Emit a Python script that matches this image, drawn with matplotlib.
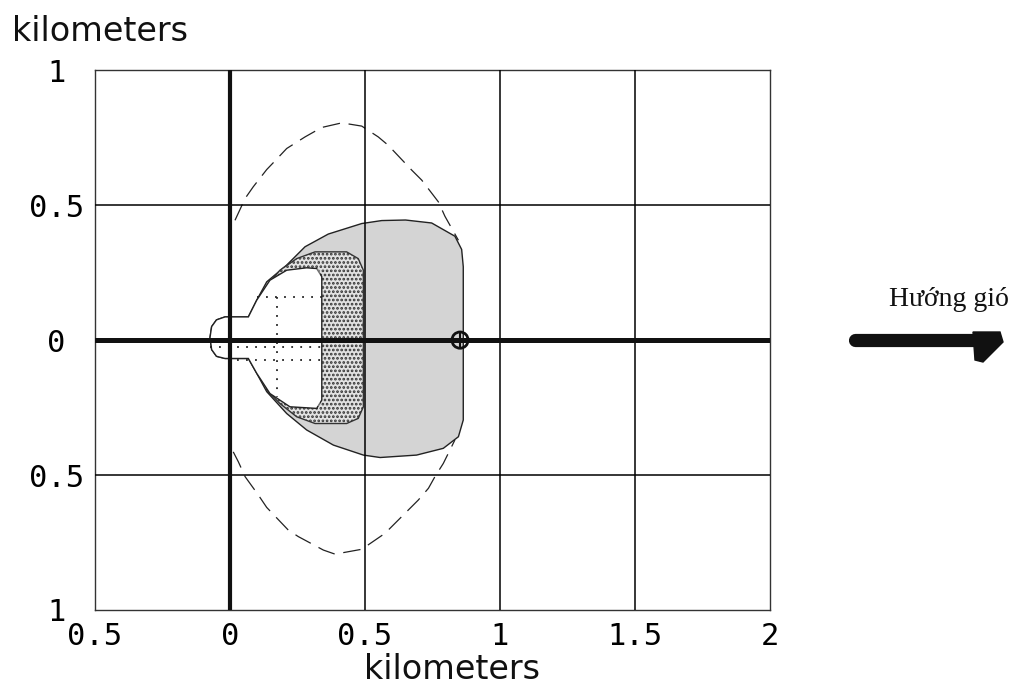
import numpy as np
import matplotlib.pyplot as plt
from matplotlib.patches import Polygon, Circle

plt.rcParams['hatch.linewidth'] = 1.3

# axis ticks (labels drawn without minus sign, as in the source figure)
x_ticks = [-0.5, 0, 0.5, 1, 1.5, 2]
x_tick_labels = ["0.5", "0", "0.5", "1", "1.5", "2"]
y_ticks = [-1, -0.5, 0, 0.5, 1]
y_tick_labels = ["1", "0.5", "0", "0.5", "1"]

# outer boundary of the grey zone (km)
outer_x = [-0.0185, 0.068, 0.099, 0.136, 0.21, 0.278, 0.364, 0.488, 0.562, 0.65, 0.747, 0.833, 0.858,
           0.864, 0.864, 0.846, 0.79, 0.691, 0.556, 0.494, 0.383, 0.284, 0.21, 0.136, 0.099,
           0.068, -0.0185, -0.05, -0.068, -0.074, -0.068, -0.05]
outer_y = [0.086, 0.086, 0.148, 0.216, 0.278, 0.346, 0.393, 0.432, 0.443, 0.445, 0.434, 0.385, 0.336,
           0.272, -0.296, -0.358, -0.401, -0.426, -0.435, -0.426, -0.389, -0.333, -0.272, -0.191, -0.123,
           -0.068, -0.068, -0.06, -0.035, 0.01, 0.05, 0.075]

# stippled middle zone
mid_x = [0.315, 0.432, 0.475, 0.494, 0.494, 0.475, 0.432, 0.315, 0.247, 0.185, 0.136, 0.136, 0.185, 0.247]
mid_y = [0.327, 0.327, 0.302, 0.259, -0.247, -0.29, -0.309, -0.309, -0.284, -0.235, -0.185, 0.2, 0.259, 0.302]

# inner (white) zone
inner_x = [0.321, 0.340, 0.340, 0.321, 0.222, 0.148, 0.099, 0.068, -0.0185, -0.05, -0.068, -0.074,
           -0.068, -0.05, -0.0185, 0.068, 0.099, 0.148, 0.21, 0.284]
inner_y = [0.265, 0.235, -0.222, -0.253, -0.247, -0.198, -0.123, -0.068, -0.068, -0.06, -0.035, 0.01,
           0.05, 0.075, 0.086, 0.086, 0.148, 0.222, 0.259, 0.268]

# light stippled band inside the inner zone
band_x = [0.284, 0.334, 0.334, 0.284]
band_y = [0.262, 0.262, -0.245, -0.245]

# dashed outer contour, upper and lower branch
dash_top_x = [0.0185, 0.056, 0.086, 0.136, 0.160, 0.210, 0.278, 0.340, 0.414, 0.488, 0.549,
              0.586, 0.673, 0.710, 0.772, 0.796, 0.846]
dash_top_y = [0.444, 0.525, 0.568, 0.632, 0.657, 0.710, 0.753, 0.788, 0.805, 0.793, 0.753,
              0.722, 0.630, 0.593, 0.512, 0.459, 0.370]
dash_bot_x = [0.012, 0.031, 0.056, 0.105, 0.136, 0.216, 0.253, 0.346, 0.389, 0.488, 0.574,
              0.617, 0.697, 0.735, 0.759, 0.790, 0.833]
dash_bot_y = [-0.414, -0.451, -0.506, -0.574, -0.620, -0.704, -0.728, -0.778, -0.793, -0.775, -0.716,
              -0.673, -0.593, -0.549, -0.506, -0.457, -0.370]

# dotted guide lines inside the inner zone: (x0, x1, y0, y1)
dotted_lines = [(0.099, 0.34, 0.160, 0.160),
                (-0.074, 0.34, -0.025, -0.025),
                (0.025, 0.34, -0.074, -0.074),
                (0.175, 0.175, 0.160, -0.21)]

# source marker
src_x, src_y, src_r = 0.852, 0.0, 0.03

fig = plt.figure(figsize=(10.15, 6.92), dpi=100)
ax = fig.add_axes([0.0936, 0.1185, 0.665, 0.780])
ax.set_xlim(-0.5, 2)
ax.set_ylim(-1, 1)

ax.add_patch(Polygon(np.column_stack([outer_x, outer_y]), closed=True,
                     facecolor='#d4d4d4', edgecolor='#222222', lw=1.0, zorder=1))
ax.add_patch(Polygon(np.column_stack([mid_x, mid_y]), closed=True,
                     facecolor='#e2e2e2', edgecolor='#333333', hatch='....', lw=1.0, zorder=2))
ax.add_patch(Polygon(np.column_stack([inner_x, inner_y]), closed=True,
                     facecolor='white', edgecolor='#222222', lw=1.0, zorder=3))
ax.add_patch(Polygon(np.column_stack([band_x, band_y]), closed=True,
                     facecolor='white', edgecolor='none', hatch='..', lw=0, zorder=3.5, alpha=0.35))

for x0, x1, y0, y1 in dotted_lines:
    ax.plot([x0, x1], [y0, y1], color='#222222', lw=1.3, linestyle=(0, (1, 4)), zorder=4)

ax.plot(dash_top_x, dash_top_y, color='#222222', lw=0.9, linestyle=(0, (14, 7)), zorder=4)
ax.plot(dash_bot_x, dash_bot_y, color='#222222', lw=0.9, linestyle=(0, (14, 7)), zorder=4)

# grid
for gx in [0.5, 1, 1.5]:
    ax.axvline(gx, color='black', lw=1.1, zorder=5)
for gy in [-0.5, 0.5]:
    ax.axhline(gy, color='black', lw=1.1, zorder=5)
ax.axvline(0, color='#111111', lw=3.0, zorder=6)
ax.axhline(0, color='#111111', lw=3.6, zorder=6)

ax.add_patch(Circle((src_x, src_y), src_r, facecolor='none', edgecolor='#111111', lw=2.0, zorder=7))
ax.plot([src_x, src_x], [src_y - src_r, src_y + src_r], color='#111111', lw=1.5, zorder=7)

for s in ax.spines.values():
    s.set_color('#333333')
    s.set_linewidth(1.0)

ax.set_xticks(x_ticks)
ax.set_xticklabels(x_tick_labels, family='DejaVu Sans Mono', fontsize=22)
ax.set_yticks(y_ticks)
ax.set_yticklabels(y_tick_labels, family='DejaVu Sans Mono', fontsize=22)
ax.tick_params(axis='x', length=0, pad=9)
ax.tick_params(axis='y', length=0, pad=28)
for lab in ax.get_yticklabels():
    lab.set_horizontalalignment('center')

fig.text(0.012, 0.955, "kilometers", fontsize=24, ha='left', va='center', color='#111111')
fig.text(0.445, 0.032, "kilometers", fontsize=24, ha='center', va='center', color='#111111')

# wind direction arrow, outside the axes
fig.text(0.935, 0.567, "Hướng gió", family='Liberation Serif', fontsize=20,
         ha='center', va='center', color='#111111')
fig.add_artist(plt.Line2D([855 / 1015, 975 / 1015], [1 - 340 / 692, 1 - 340 / 692],
                          color='#111111', lw=9.5, solid_capstyle='round'))
head = Polygon([(973 / 1015, 1 - 332 / 692), (1000 / 1015, 1 - 332 / 692),
                (1003 / 1015, 1 - 342 / 692), (983 / 1015, 1 - 362 / 692),
                (975 / 1015, 1 - 360 / 692)], closed=True, transform=fig.transFigure,
               facecolor='#111111', edgecolor='#111111', lw=1)
fig.add_artist(head)

fig.savefig("out.png", dpi=100)
